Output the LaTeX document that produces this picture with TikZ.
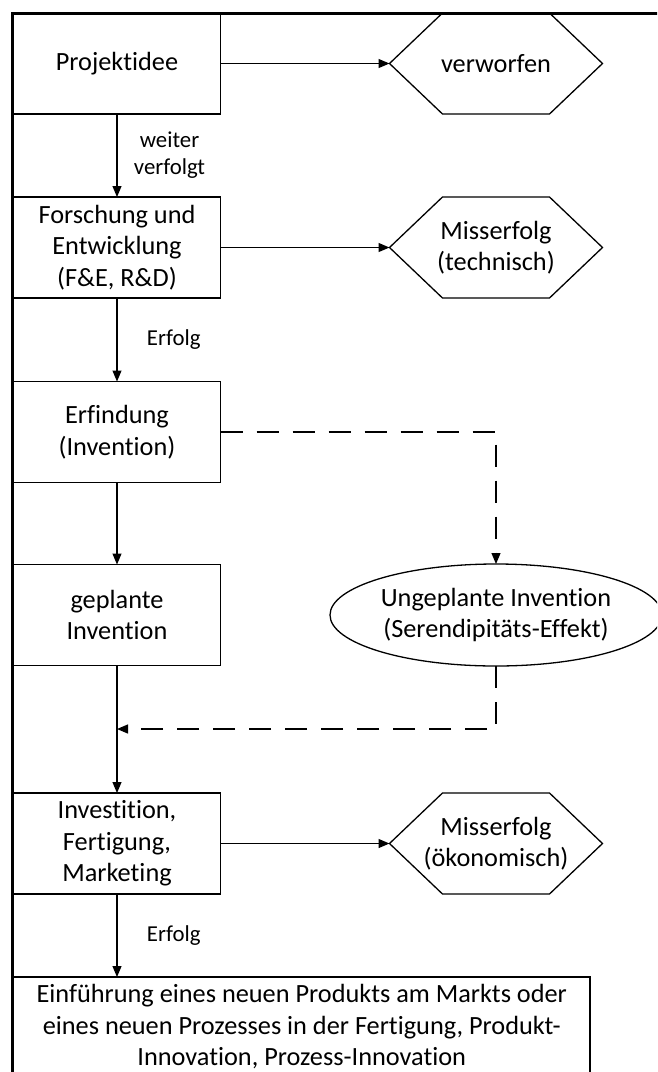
\documentclass[tikz,border=0pt]{standalone}
\usepackage{fontspec}
\setmainfont{Carlito}[Ligatures=NoCommon]
\usetikzlibrary{arrows.meta,calc,shapes.geometric}
\newcommand\hexshape[1]{\draw[hexline] (#1.west) -- ([xshift=53pt]#1.north west) -- ([xshift=-53pt]#1.north east) -- (#1.east) -- ([xshift=-53pt]#1.south east) -- ([xshift=53pt]#1.south west) -- cycle;}
\begin{document}
\begin{tikzpicture}[x=1pt,y=-1pt,
 boxtxt/.style={font=\fontsize{26.3}{31.5}\selectfont, align=center},
 procbox/.style={boxtxt, draw, line width=1.3pt, minimum width=207pt, minimum height=101pt, inner sep=0pt, outer sep=0pt},
 hexnode/.style={boxtxt, minimum width=213pt, minimum height=101pt, inner sep=0pt, outer sep=0pt},
 ellnode/.style={boxtxt, draw, ellipse, line width=1.3pt, minimum width=332pt, minimum height=102pt, inner sep=0pt, outer sep=0pt},
 flow/.style={line width=1.2pt, -{Triangle[length=11pt,width=9pt]}},
 dflow/.style={flow, dash pattern=on 22pt off 14pt},
 lbl/.style={font=\fontsize{22.8}{27}\selectfont, align=center},
 hexline/.style={line width=1.3pt, line join=miter},
 frameline/.style={line width=3pt}
]
\useasboundingbox (0,0) rectangle (657,1072);
\clip (0,0) rectangle (657,1072);
\fill[white] (0,0) rectangle (657,1072);
\draw[frameline] (12,1100) -- (12,13) -- (700,13);

\node[procbox] (p1) at (117,63.5) {Projektidee};
\node[hexnode] (h1) at (496,63.5) {verworfen};
\hexshape{h1}
\node[procbox] (p2) at (117,247.5) {Forschung und\\Entwicklung\\(F\&E, R\&D)};
\node[hexnode] (h2) at (496,247.5) {Misserfolg\\(technisch)};
\hexshape{h2}
\node[procbox] (p3) at (117,432) {Erfindung\\(Invention)};
\node[procbox] (p4) at (117,615) {geplante\\Invention};
\node[ellnode] (e1) at (496,615) {Ungeplante Invention\\(Serendipitäts-Effekt)};
\node[procbox] (p5) at (117,843.5) {Investition,\\Fertigung,\\Marketing};
\node[hexnode] (h3) at (496,843.5) {Misserfolg\\(ökonomisch)};
\hexshape{h3}
\node[procbox, minimum width=576.5pt, minimum height=100pt] (p6) at (301.75,1027) {Einführung eines neuen Produkts am Markts oder\\eines neuen Prozesses in der Fertigung, Produkt-\\Innovation, Prozess-Innovation};

\coordinate (j) at (117,729);

\draw[flow] (p1.east) -- (h1.west);
\draw[flow] (p1.south) -- node[lbl, right=13pt] (l1) {weiter\\verfolgt} (p2.north);
\draw[flow] (p2.east) -- (h2.west);
\draw[flow] (p2.south) -- node[lbl, right=26pt] (l2) {Erfolg} (p3.north);
\draw[flow] (p3.south) -- (p4.north);
\draw[dflow] (p3.east) -| (e1.north);
\draw[flow] (p4.south) -- (p5.north);
\draw[dflow] (e1.south) |- (j);
\draw[flow] (p5.east) -- (h3.west);
\draw[flow] (p5.south) -- node[lbl, right=26pt] (l3) {Erfolg} (p5.south |- p6.north);
\end{tikzpicture}
\end{document}
